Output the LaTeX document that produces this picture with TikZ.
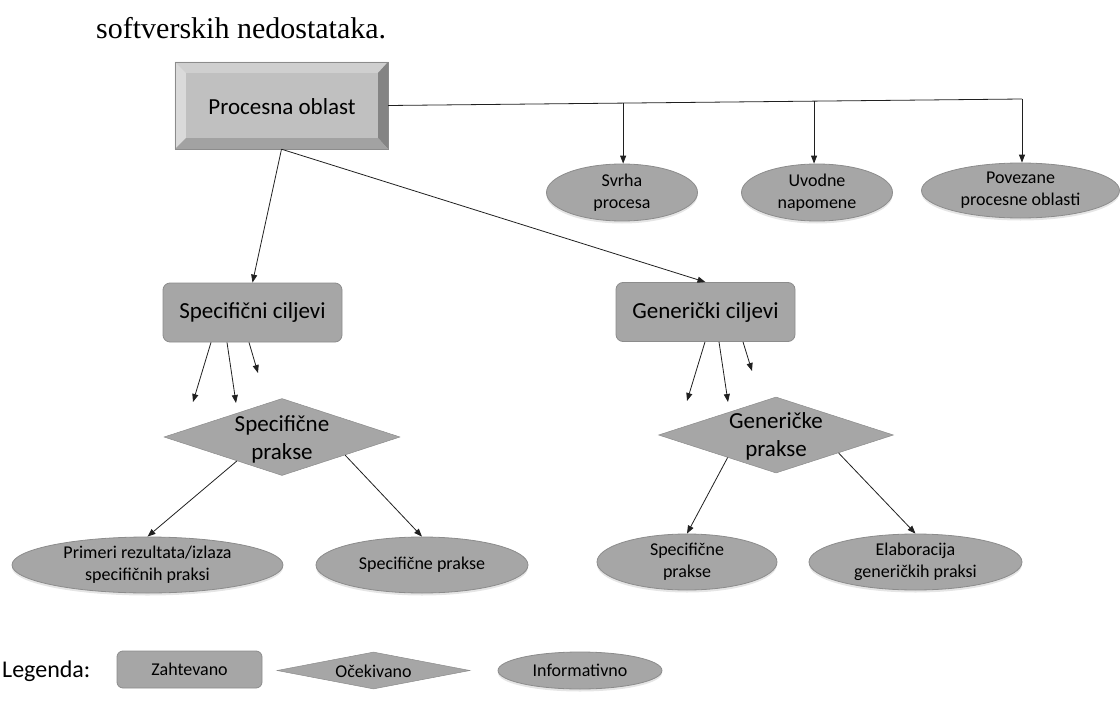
\documentclass[tikz,border=0pt]{standalone}
\usepackage{fontspec}
\setmainfont{Carlito}
\newfontfamily\serifface{Liberation Serif}
\usetikzlibrary{arrows.meta,shapes.geometric,calc,shadows}
\definecolor{shapefill}{HTML}{A6A6A6}
\definecolor{shapeline}{HTML}{8C8C8C}
\definecolor{bevface}{HTML}{C0C0C0}
\definecolor{bevtop}{HTML}{CFCFCF}
\definecolor{bevleft}{HTML}{DADADA}
\definecolor{bevright}{HTML}{848484}
\definecolor{bevbottom}{HTML}{A2A2A2}
\definecolor{conn}{HTML}{202020}
\begin{document}
\begin{tikzpicture}[x=1pt,y=-1pt,
  arr/.style={draw=conn,line width=0.8pt,-{Triangle[length=8pt,width=6pt]}},
  plain/.style={draw=conn,line width=0.8pt},
  goalbox/.style={rectangle,rounded corners=7pt,fill=shapefill,draw=shapeline,line width=0.8pt,
    minimum width=179pt,minimum height=59pt,inner sep=0pt,font=\fontsize{23}{28}\selectfont},
  diam/.style={diamond,fill=shapefill,draw=shapeline,line width=0.5pt,inner sep=0pt},
  difftext/.style={align=center,font=\fontsize{23}{28}\selectfont},
  info/.style={ellipse,fill=shapefill,draw=shapeline,line width=0.8pt,inner sep=0pt,
    minimum height=56pt,align=center,font=\fontsize{18}{22}\selectfont,
    drop shadow={shadow xshift=0pt,shadow yshift=-2.5pt,opacity=0.1,fill=black}},
  legtext/.style={font=\fontsize{18}{22}\selectfont}
]
\useasboundingbox (0,0) rectangle (1120,704);

% heading text
\node[anchor=base west,inner sep=0pt,font=\serifface\fontsize{30}{36}\selectfont] (ttl) at (96,38) {softverskih nedostataka.};

% Procesna oblast (bevelled box)
\node[rectangle,fill=bevface,minimum width=213pt,minimum height=87pt,inner sep=0pt] (P) at (281.5,105.5) {};
\fill[bevtop] (P.north west) -- (P.north east) -- ($(P.north east)+(-10,11)$) -- ($(P.north west)+(11,11)$) -- cycle;
\fill[bevleft] (P.north west) -- ($(P.north west)+(11,11)$) -- ($(P.south west)+(11,-11)$) -- (P.south west) -- cycle;
\fill[bevright] (P.north east) -- (P.south east) -- ($(P.south east)+(-10,-11)$) -- ($(P.north east)+(-10,11)$) -- cycle;
\fill[bevbottom] (P.south west) -- ($(P.south west)+(11,-11)$) -- ($(P.south east)+(-10,-11)$) -- (P.south east) -- cycle;
\draw[shapeline,line width=0.6pt] (P.north west) rectangle (P.south east);
\node[font=\fontsize{23}{28}\selectfont] (Pt) at (282,107) {Procesna oblast};

% top info ellipses
\node[info,minimum width=151pt,minimum height=57pt] (e1) at (622,192.5) {Svrha\\procesa};
\node[info,minimum width=151pt,minimum height=57pt] (e2) at (817,192.5) {Uvodne\\napomene};
\node[info,minimum width=198pt,minimum height=55pt] (e3) at (1020.5,190.5) {Povezane\\procesne oblasti};

\coordinate (R) at (1022,99);
\draw[plain] (P.east) -- (R);
\coordinate (t1) at ($(P.east)!0.3707!(R)$);
\coordinate (t2) at ($(P.east)!0.6719!(R)$);
\draw[arr] (t1) -- (t1 |- e1.north);
\draw[arr] (t2) -- (t2 |- e2.north);
\draw[arr] (R) -- (R |- e3.north);

% goals
\node[goalbox] (SC) at (252.5,312.5) {Specifični ciljevi};
\node[goalbox] (GC) at (705.5,312) {Generički ciljevi};
\draw[arr] (P.south) -- (SC.north);
\draw[arr] (P.south) -- (GC.north);

% practices diamonds
\node[diam,minimum width=236pt,minimum height=77pt] (SP) at (282,437) {};
\node[difftext] (SPt) at (282,439) {Specifične\\prakse};
\node[diam,minimum width=235pt,minimum height=76pt] (GP) at (776,435) {};
\node[difftext] (GPt) at (776,436) {Generičke\\prakse};

% arrows from goals
\coordinate (s1) at (193,402);
\coordinate (s2) at (236,403);
\coordinate (s3) at (258,373);
\draw[arr] ([xshift=-41.5pt]SC.south) -- (s1);
\draw[arr] ([xshift=-25.5pt]SC.south) -- (s2);
\draw[arr] ([xshift=-3.5pt]SC.south) -- (s3);
\coordinate (g1) at (687,401);
\coordinate (g2) at (728,402);
\coordinate (g3) at (752,371);
\draw[arr] ([xshift=-0.5pt]GC.south) -- (g1);
\draw[arr] ([xshift=13.5pt]GC.south) -- (g2);
\draw[arr] ([xshift=37.5pt]GC.south) -- (g3);

% bottom info ellipses
\node[info,minimum width=271pt] (A) at (147.5,565) {Primeri rezultata/izlaza\\specifičnih praksi};
\node[info,minimum width=212pt] (B) at (422,565) {Specifične prakse};
\node[info,minimum width=180pt] (C) at (687,562) {Specifične\\prakse};
\node[info,minimum width=213pt] (D) at (915.5,562) {Elaboracija\\generičkih praksi};

\draw[arr] (SP.208) -- (A.north);
\draw[arr] (SP.344) -- (B.north);
\draw[arr] (GP.205) -- (C.north);
\draw[arr] (GP.344) -- (D.north);

% legend
\node[anchor=base west,inner sep=0pt,font=\fontsize{24}{28}\selectfont] (leg) at (2,677) {Legenda:};
\node[goalbox,minimum width=145pt,minimum height=37pt,rounded corners=6pt,legtext] (L1) at (189.5,669.5) {Zahtevano};
\node[diam,minimum width=193pt,minimum height=37pt] (L2) at (373.5,670.5) {};
\node[legtext] (L2t) at (373.5,671) {Očekivano};
\node[info,minimum width=164pt,minimum height=37pt,legtext] (L3) at (580,670.5) {Informativno};
\end{tikzpicture}
\end{document}
